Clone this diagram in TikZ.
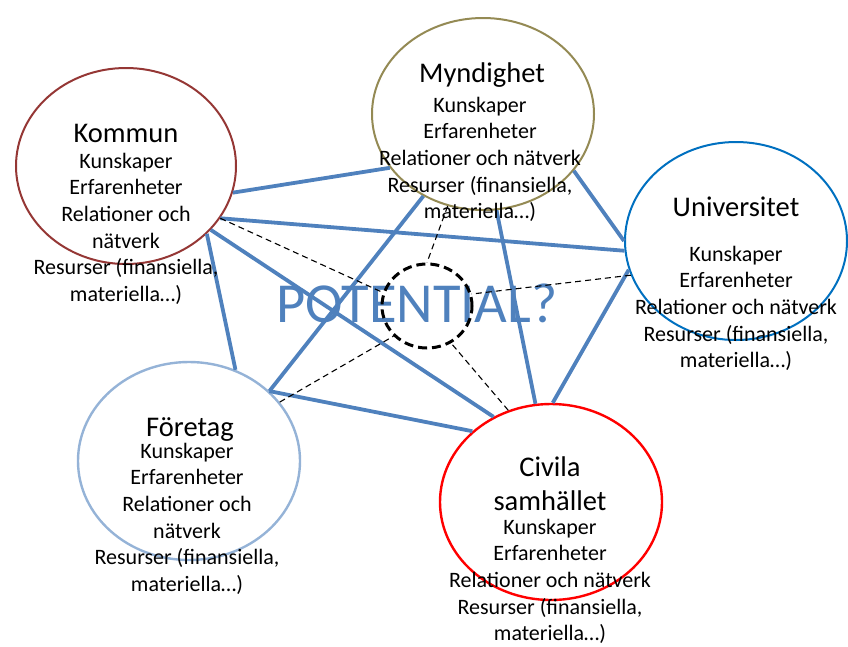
\documentclass[tikz,border=0pt]{standalone}
\usepackage{fontspec}
\setmainfont{Carlito}
\usetikzlibrary{shapes.geometric}
\definecolor{kommunc}{HTML}{953735}
\definecolor{myndc}{HTML}{948A54}
\definecolor{univc}{HTML}{0070C0}
\definecolor{foretc}{HTML}{95B3D7}
\definecolor{civc}{HTML}{FF0000}
\definecolor{linkc}{HTML}{4F81BD}
\begin{document}
\begin{tikzpicture}[x=1pt,y=-1pt,
  org/.style={ellipse, draw, line width=2pt, inner sep=0pt},
  link/.style={draw=linkc, line width=3.8pt},
  dlink/.style={draw=black, line width=1.1pt, dash pattern=on 6pt off 4pt},
  ttl/.style={font=\fontsize{28.5}{34}\selectfont, anchor=base, inner sep=0pt},
  bodytxt/.style={font=\fontsize{22}{26.6}\selectfont, align=center, anchor=north, inner sep=0pt}]
\useasboundingbox (0,0) rectangle (848,646);

% organisations
\node[org, draw=kommunc, minimum width=220pt, minimum height=196pt] (K) at (126,166) {};
\node[org, draw=myndc, minimum width=222pt, minimum height=192pt] (M) at (483,114) {};
\node[org, draw=univc, minimum width=222pt, minimum height=198pt] (U) at (736,241) {};
\node[org, draw=foretc, line width=2.4pt, minimum width=222pt, minimum height=198pt] (F) at (189,461) {};
\node[org, draw=civc, line width=2.4pt, minimum width=222pt, minimum height=196pt] (C) at (551,502) {};

% potential
\node[font=\fontsize{56.5}{60}\selectfont, text=linkc, anchor=base, inner sep=0pt] (pot) at (417,322) {POTENTIAL?};

% links
\draw[link] (K.-14) -- (M.-150);
\draw[link] (K.-29) -- (U.-175);
\draw[link] (K.-37) -- (C.124);
\draw[link] (K.-40) -- (F.63);
\draw[link] (M.-126) -- (F.41);
\draw[link] (M.-82) -- (C.99);
\draw[link] (M.-32) -- (U.180);
\draw[link] (U.-165) -- (C.89);
\draw[link] (F.41) -- (C.138);

% centre
\node[ellipse, draw=black, line width=3pt, dash pattern=on 9pt off 5pt, minimum width=90pt, minimum height=84pt, inner sep=0pt] (P) at (427,306) {};
\draw[dlink] (K.-29) -- (P.163);
\draw[dlink] (M.-111) -- (P.90);
\draw[dlink] (U.-162) -- (P.15);
\draw[dlink] (F.33) -- (P.-138);
\draw[dlink] (C.115) -- (P.-57);

% texts
\node[ttl] (Kt) at (126,142) {Kommun};
\node[bodytxt] (Kb) at (126,148) {\rule{0pt}{20pt}Kunskaper\\Erfarenheter\\Relationer och\\nätverk\\Resurser (finansiella,\\materiella…)};
\node[ttl] (Mt) at (482,82) {Myndighet};
\node[bodytxt] (Mb) at (480,92) {\rule{0pt}{20pt}Kunskaper\\Erfarenheter\\Relationer och nätverk\\Resurser (finansiella,\\materiella…)};
\node[ttl] (Ut) at (736,216) {Universitet};
\node[bodytxt] (Ub) at (736,241) {\rule{0pt}{20pt}Kunskaper\\Erfarenheter\\Relationer och nätverk\\Resurser (finansiella,\\materiella…)};
\node[ttl] (Ft) at (190,436) {Företag};
\node[bodytxt] (Fb) at (187,438) {\rule{0pt}{20pt}Kunskaper\\Erfarenheter\\Relationer och\\nätverk\\Resurser (finansiella,\\materiella…)};
\node[ttl, align=center, anchor=north, font=\fontsize{28.5}{34}\selectfont] (Ct) at (550,450) {\rule{0pt}{26pt}Civila\\samhället};
\node[bodytxt] (Cb) at (550,514) {\rule{0pt}{20pt}Kunskaper\\Erfarenheter\\Relationer och nätverk\\Resurser (finansiella,\\materiella…)};
\end{tikzpicture}
\end{document}
